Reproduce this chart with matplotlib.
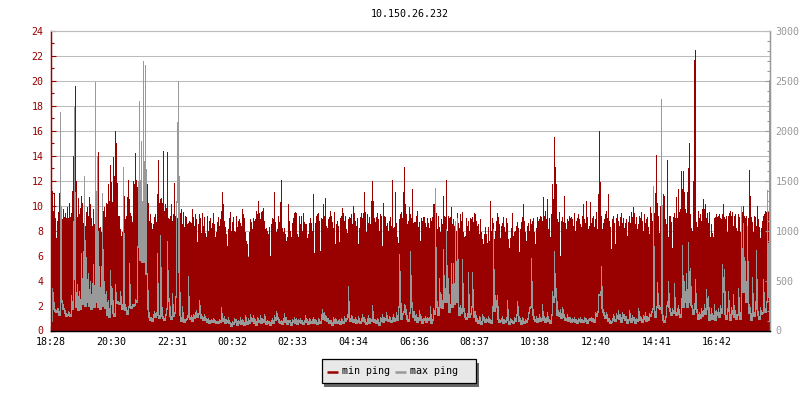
import numpy as np
import matplotlib
matplotlib.use('Agg')
import matplotlib.pyplot as plt
from matplotlib.lines import Line2D
from matplotlib.patches import Rectangle
from matplotlib.ticker import MultipleLocator

plt.rcParams['font.family'] = ['DejaVu Sans Mono']
plt.rcParams['font.size'] = 7.2

# one sample every 2 minutes, 60 samples per row
min_ping = [
    8.5,8.5,11.2,9.6,11,9,7.4,8.8,9.5,11, 8.3,7.5,8.9,9.7,9.1,9.4,9,9.9,9,10.2, 9.1,9.4,11.2,14,10.5,19.6,12,9.1,10.6,9.3, 9.8,10.8,10.2,8.6,8.2,8.4,9.5,9.9,9.2,10.7, 10.1,9,8.4,9.7,8.5,10,9.4,9.8,14.3,8.2, 8.3,7.9,9.2,9.6,9.9,9.1,10.2,10.1,11.7,10.4,
    13.3,11.9,10.3,13.9,12.4,16,15,11.8,9.2,9.2, 8.1,7.6,7.9,8.3,10.8,8.9,9.2,10.7,12.1,10.5, 9.4,9.2,8.7,12,11.7,14.2,12.1,11.5,8.8,9.3, 8.8,9.3,8.4,10.6,9.9,9.7,9.5,11.7,10.2,8.8, 9.3,8.6,8.1,8.5,9.1,9.3,8.7,10.9,13.7,10.2, 10.5,10.6,10.2,14.4,9.6,10.1,9.8,14.3,9,8.9,
    9.2,10.1,8.8,9.3,11.8,9.2,9.4,9,9.9,10.3, 9.4,9.7,8.5,9.5,8.3,9.2,9.1,8.5,8.6,8.8, 8.7,8.6,9.7,9.1,8.4,9.3,8.9,7.1,8.5,9.3, 9,7.8,9.4,8.4,9.1,7.8,7.5,9.2,8,8.8, 9,8.2,8.6,9.4,8.5,7.5,7.9,8.7,9.1,8.4, 8.9,9.6,11.1,10.1,8.8,8.3,7.7,6.8,8.1,9,
    9.5,8,8.7,9.1,8,7.9,9.2,8.3,8.8,8.9, 8.6,8.4,9.7,9.3,9,7.9,7.2,6.9,5.9,7.9, 8.9,8.7,8.1,9,8.8,8.9,9.6,9.3,10.4,9.4, 8.9,9.5,9.6,9.8,8.8,8.1,8.2,8,7.7,8.3, 6,8.5,9,8.9,11.1,8.7,7.9,8.1,9.2,8.7, 10.3,12.1,8.2,7.9,8.2,7.7,7.2,7.5,10.1,8.8,
    8,7.5,8.6,9,9.4,9.5,9.4,7.7,7.5,9.2, 8.5,9.2,8,9.4,8.7,8.5,8.5,7.4,7.7,8.6, 9,8.6,8,10.9,6.2,8.6,9.2,9.3,9.4,8.8, 6.4,9,8.9,10.1,9.2,10.6,8.4,8.2,8.9,9.1, 9.6,9.2,8.7,8.2,9.5,6.9,8.5,8.8,8.4,7.1, 9,9.2,9.8,9.4,8.8,9.2,8.1,7.8,8.9,9.1,
    9,9.3,8.5,10,9.4,8.8,8.4,9,6.9,8.2, 9.1,9.4,9,9.4,11.1,9.5,7.9,9.3,8.6,9.1, 8.5,10.4,12,10.4,9,8.7,9.1,9.4,8.9,8, 9.3,9.2,6.8,10.2,9.2,9.1,8.4,8.6,8,8.8, 9.1,8.4,12.1,8.2,8.3,11.1,8.6,7.5,7,8.9, 9.3,9.5,9,11.1,13.1,10.1,9.3,8.5,8.8,9.9,
    9.3,9,11.3,8.6,8.7,8.7,9.2,9.6,8.3,8.7, 7.2,9,8.8,9.1,9.1,8.6,8.3,9,8.6,8.2, 9,8.8,9.1,10.1,10.1,8.9,9.4,8.1,9.2,8.3, 7.9,8.9,8.5,10.8,9.2,9.1,12.1,8,9.2,9, 9.1,9.9,8.5,8.9,8.4,7.7,8,9.4,8.6,8.2, 9.3,8.8,9.5,7.9,7.5,7.6,9,8.4,8.8,8,
    9,8.9,9.1,8.7,9.4,9.3,8.8,8.4,8.5,7.7, 8.9,7.9,7.3,6.9,7.7,8.3,7.7,7,8.3,7.2, 10.4,8,9,8.6,7.3,8,8.8,9.4,9.1,8.5, 7.4,8.4,8.6,9.1,8.3,7.9,9,8.6,7.3,6.6, 7.4,8.2,9.4,7.6,7.9,8,8.4,8.7,8.2,6.3, 8.1,8.7,9.1,10.1,8.8,7.9,7.2,8.4,8.6,8,
    8.9,8.5,8.8,9,7.9,6.9,8.2,9.1,8.8,8.9, 9.2,9.1,8.8,10.7,9.2,9.6,8.9,10.5,8.1,9, 7.5,9.3,11.7,10.5,15.5,13.1,11.7,8.9,8.7,9.5, 6,8.8,9.1,8.7,10.8,8.6,8.1,8.9,8.8,9.2, 9,9.1,8.9,8.4,9.4,8,8.8,9,9.3,8.9, 8.5,8.3,9.2,10.1,8.9,8.6,10.4,9.1,8.1,8.4,
    10.3,8.6,9,9.2,8.3,8.9,9.5,8.1,10.9,16, 11.9,9.2,8.1,8.6,8.9,9.3,9.6,9,10.9,8.8, 8.3,6.5,8.9,9.2,8.6,6.9,9,9.3,8.8,8.4, 9.1,9.4,8.6,9,8.2,8.6,8.9,7.6,8.7,9.2, 8.6,9.5,9.1,9.9,9.4,8.5,9.1,8.1,8.5,9.2, 9,9.5,8.8,8,9.3,8.6,8.9,9.1,8.3,7.7,
    9.9,9.4,8.8,9.1,9.4,11,14.1,10.2,9.2,7.8, 10,9,8.3,10.9,10.8,8.9,8.5,13.7,7.5,9.2, 9.2,8.7,6.6,9.1,9.4,9,10.7,9,11.3,9.5, 9.7,12.8,11.3,12.8,11.1,9.7,9.4,11.1,13,15, 9.3,8.2,8,12,21.7,22.5,8.7,8.3,9.6,9, 9.3,8.8,9.7,10.5,9.7,10.1,9,9.4,8.6,9.5,
    7.5,8.5,7.8,7.5,9,9.1,9.3,9.1,9.2,9.3, 9,8.9,9.3,10.1,9.1,8.9,9.2,7.9,9.2,9.4, 9.6,9.2,9.5,8.4,9.2,9.3,8.2,8,9.3,9.1, 7.9,8.4,9.5,10,9.2,9,9.2,8,9,12.9, 10.8,9.1,8.7,7.9,9.2,9.1,8.4,10,8.9,8.3, 7.4,8.2,8.8,9.2,9.3,9.6,9.5,11.2,9.6,8.7,
]
max_ping = [
    110,110,430,350,230,210,200,230,220,170, 2190,310,300,230,230,190,160,170,200,175, 160,360,230,1100,2240,530,250,470,220,400, 230,780,280,800,1550,260,740,300,580,260, 500,230,480,670,250,2490,300,1750,250,650, 230,650,1375,260,500,240,400,170,310,150,
    610,280,430,190,160,470,300,290,300,280, 400,300,230,1640,310,220,240,180,250,680, 250,240,270,260,270,320,300,850,1500,2300, 720,1900,700,2700,700,2660,580,580,230,150, 120,140,110,170,200,150,190,780,170,140, 960,310,160,140,120,170,230,900,310,330,
    160,130,380,160,190,350,1300,2090,2500,600, 170,110,250,130,100,120,130,160,550,150, 130,160,110,170,140,190,210,150,180,310, 200,140,150,120,170,115,130,100,125,90, 110,120,95,130,100,110,90,100,85,120, 100,234,110,130,150,90,120,100,135,85,
    90,60,100,80,130,95,120,70,110,90, 140,80,120,100,70,160,110,80,130,90, 170,110,130,155,90,120,70,140,110,100, 155,90,130,100,170,120,80,110,90,100, 70,110,130,90,160,120,200,150,130,100, 90,110,80,130,180,100,140,80,110,95,
    110,70,120,100,140,90,125,80,115,95, 130,90,105,75,110,160,95,120,80,130, 100,90,115,140,85,120,100,75,130,110, 90,170,220,130,190,120,150,105,130,85, 110,100,70,140,90,125,110,85,105,120, 75,130,100,90,150,110,130,170,450,150,
    110,160,130,95,120,140,85,110,150,100, 90,125,170,110,140,100,75,125,160,90, 130,110,260,140,100,120,85,130,105,70, 140,110,170,95,140,115,190,130,105,150, 120,95,140,170,110,130,190,120,250,770, 420,130,180,200,270,250,180,130,110,190,
    800,320,250,150,200,120,170,100,140,210, 120,150,90,130,115,150,100,135,120,140, 250,90,120,230,180,1425,250,300,170,530, 250,370,240,820,300,430,1020,300,530,200, 270,680,250,680,280,1100,300,1130,300,170, 260,190,720,240,210,150,130,180,590,150,
    180,250,590,250,150,200,110,130,90,150, 115,80,170,120,140,95,130,110,150,100, 120,85,250,1020,210,360,250,360,130,100, 110,130,150,90,120,100,140,310,120,80, 130,95,110,85,140,110,170,300,190,110, 130,80,140,110,90,120,100,130,190,240,
    250,730,260,170,130,110,150,100,130,170, 110,130,270,120,150,100,140,190,110,120, 90,170,400,300,800,350,430,170,210,160, 220,140,240,190,150,120,130,170,110,140, 130,95,125,110,140,100,120,90,130,105, 135,100,120,95,140,110,125,90,120,130,
    115,140,105,130,100,190,160,200,370,370, 400,650,240,200,170,140,190,150,110,130, 90,100,130,170,120,110,180,140,210,130, 170,100,190,140,170,120,150,90,120,210, 150,100,160,120,140,90,130,110,230,170, 120,140,100,160,130,190,110,150,120,180,
    160,200,230,1450,240,150,250,485,270,240, 230,2320,190,120,100,150,260,300,500,250, 210,170,230,190,480,200,170,230,260,180, 150,330,860,250,500,300,580,250,890,300, 630,270,250,180,280,520,230,200,130,190, 140,230,160,210,270,180,420,230,350,120,
    170,230,130,160,270,120,210,170,230,150, 260,190,670,400,620,180,130,230,400,210, 120,240,180,370,150,210,130,170,430,240, 130,1250,400,1080,400,700,300,1050,340,190, 240,120,540,220,160,300,810,230,170,130, 240,180,190,520,250,200,300,1410,350,2510,
]
time_labels = ['18:28', '20:30', '22:31', '00:32', '02:33', '04:34', '06:36', '08:37', '10:38', '12:40', '14:41', '16:42']
time_ticks = [0, 122, 243, 364, 485, 606, 728, 849, 970, 1092, 1213, 1334]

RED = '#990000'
GRAY = '#999999'
GRID = '#bbbbbb'

minutes = np.arange(len(min_ping)) * 2
max_arr = np.array(max_ping)
prev_arr = np.roll(max_arr, 1)
next_arr = np.roll(max_arr, -1)
# gray line drawn as 1px columns: a spike is 1px at the top and 2px in its lower half
low = np.minimum(np.minimum(max_arr, prev_arr), next_arr) - 20
top = np.maximum(max_arr, (max_arr + prev_arr) / 2)

fig = plt.figure(figsize=(8, 4), dpi=100, facecolor='white')
ax = fig.add_axes([50.5/800, 1 - 330.5/400, 719.5/800, 299.5/400])
ax2 = ax.twinx()

ax.bar(minutes, min_ping, width=2, align='edge', color=RED, linewidth=0, antialiased=False)
ax2.bar(minutes, top - low, bottom=low, width=2, align='edge', color=GRAY, linewidth=0, antialiased=False)

ax.set_xlim(0, 1440)
ax.set_ylim(0, 24)
ax2.set_ylim(0, 3000)

ax.yaxis.set_major_locator(MultipleLocator(2))
ax.yaxis.set_minor_locator(MultipleLocator(1))
ax2.yaxis.set_major_locator(MultipleLocator(500))
ax2.yaxis.set_minor_locator(MultipleLocator(100))
ax.set_xticks(time_ticks)
ax.set_xticklabels(time_labels)

ax.set_axisbelow(True)
ax.grid(axis='y', which='major', color=GRID, linewidth=0.75)

ax.tick_params(axis='x', direction='in', length=3.6, width=0.9, colors='black', pad=5)
ax.tick_params(axis='y', which='major', direction='in', length=3.8, width=0.8, colors=RED, pad=5)
ax.tick_params(axis='y', which='minor', direction='in', length=2.2, width=0.8, colors=RED)
ax2.tick_params(axis='y', which='major', direction='in', length=3.8, width=0.8, colors=GRAY, pad=4)
ax2.tick_params(axis='y', which='minor', direction='in', length=2.2, width=0.8, colors=GRAY)

for a in (ax, ax2):
    a.spines['top'].set_color(GRID)
    a.spines['top'].set_linewidth(0.75)
    a.spines['bottom'].set_color('black')
    a.spines['left'].set_color(RED)
    a.spines['right'].set_color(GRAY)
    a.spines['left'].set_linewidth(0.9)
    a.spines['right'].set_linewidth(0.9)
    a.spines['bottom'].set_linewidth(0.9)

fig.text(410/800, 1 - 14/400, '10.150.26.232', ha='center', va='center', color='black')

# legend box placed by hand, its left and right padding are not equal
def px(x, y):
    return x/800, 1 - y/400

fig.add_artist(Rectangle(px(324, 386.5), 155/800, 24/400, transform=fig.transFigure, facecolor='#666666', edgecolor='none'))
fig.add_artist(Rectangle(px(322, 383), 154/800, 24/400, transform=fig.transFigure, facecolor='#e8e8e8', edgecolor='black', linewidth=0.9))
for x0, color, label in [(327, RED, 'min ping'), (395, GRAY, 'max ping')]:
    x_line, y_line = zip(px(x0, 371.5), px(x0 + 11, 371.5))
    fig.add_artist(Line2D(x_line, y_line, transform=fig.transFigure, color=color, lw=1.8, solid_capstyle='butt'))
    fig.text(*px(x0 + 15, 370.5), label, ha='left', va='center', color='black')

fig.savefig('out.png', dpi=100)
